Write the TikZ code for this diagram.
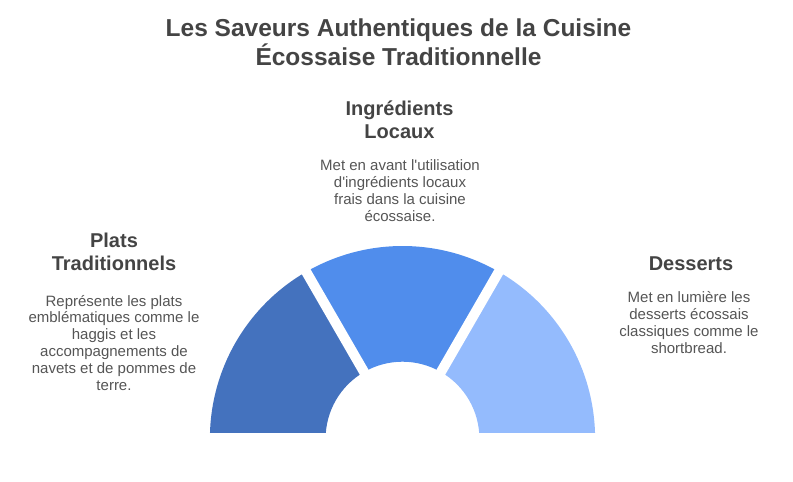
\documentclass[tikz,border=0pt]{standalone}
\usepackage{fontspec}
\setmainfont{Liberation Sans}[Ligatures=TeXOff]
\definecolor{segA}{RGB}{68,114,190}
\definecolor{segB}{RGB}{80,141,236}
\definecolor{segC}{RGB}{148,187,253}
\definecolor{headcol}{HTML}{444444}
\definecolor{bodycol}{HTML}{555555}
\tikzset{
  titletext/.style={font=\bfseries\fontsize{24.5}{28.3}\selectfont, text=headcol, align=center, anchor=base, inner sep=0pt},
  headtext/.style={font=\bfseries\fontsize{20}{23}\selectfont, text=headcol, align=center, anchor=base, inner sep=0pt},
  bodytext/.style={font=\fontsize{15}{16.8}\selectfont, text=bodycol, align=center, anchor=base, inner sep=0pt},
  gapline/.style={white, line width=10pt},
}
\begin{document}
\begin{tikzpicture}[x=1pt,y=-1pt]
\useasboundingbox (0,0) rectangle (793,482);
% anchor=base of a multi-line node is the baseline of its last line
\node[titletext] (title) at (398.5,65) {Les Saveurs Authentiques de la Cuisine\\Écossaise Traditionnelle};
\node[headtext] (hmid) at (399.5,138.3) {Ingrédients\\Locaux};
\node[bodytext] (bmid) at (400,221) {Met en avant l'utilisation\\d'ingrédients locaux\\frais dans la cuisine\\écossaise.};
\node[headtext] (hleft) at (114,270.7) {Plats\\Traditionnels};
\node[bodytext] (bleft) at (114,390) {Représente les plats\\emblématiques comme le\\haggis et les\\accompagnements de\\navets et de pommes de\\terre.};
\node[headtext] (hright) at (691,270.7) {Desserts};
\node[bodytext] (bright) at (689,353.3) {Met en lumière les\\desserts écossais\\classiques comme le\\shortbread.};
\begin{scope}[shift={(402.5,438.6)}, y=1pt]
  \clip (-200,6.1) rectangle (200,200);
  \fill[segA] (180:192.6) arc[start angle=180, end angle=120, radius=192.6] -- (120:76.9) arc[start angle=120, end angle=180, radius=76.9] -- cycle;
  \fill[segB] (120:192.6) arc[start angle=120, end angle=60, radius=192.6] -- (60:76.9) arc[start angle=60, end angle=120, radius=76.9] -- cycle;
  \fill[segC] (60:192.6) arc[start angle=60, end angle=0, radius=192.6] -- (0:76.9) arc[start angle=0, end angle=60, radius=76.9] -- cycle;
  \draw[gapline] (0,0) -- (60:210) (0,0) -- (120:210);
\end{scope}
\end{tikzpicture}
\end{document}
